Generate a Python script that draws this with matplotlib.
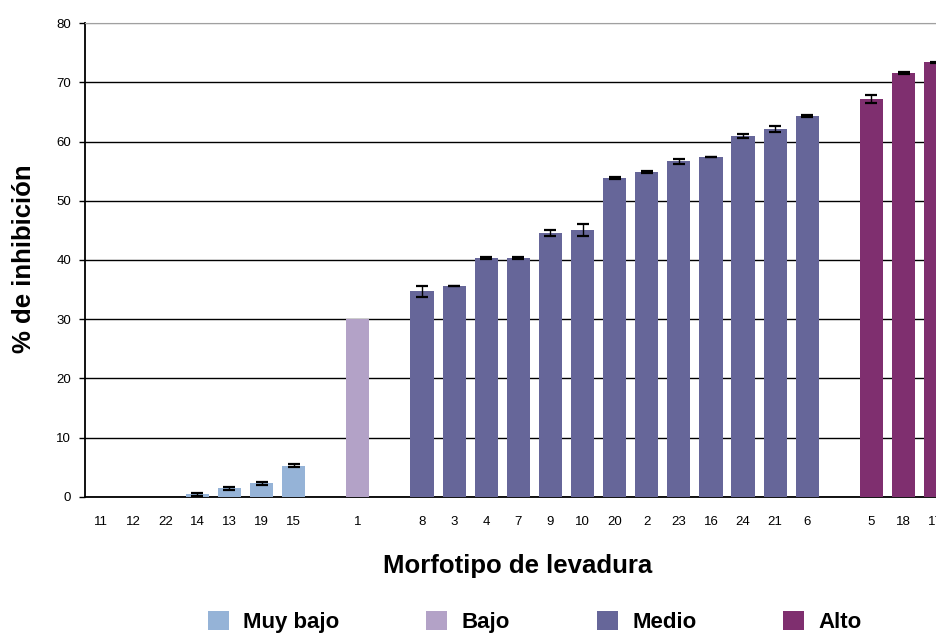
import matplotlib
matplotlib.use("Agg")
import matplotlib.pyplot as plt
from matplotlib.patches import Patch

plt.rcParams["font.family"] = ["Liberation Sans", "DejaVu Sans"]

# Inhibition (%) per yeast morphotype, grouped by inhibition level
muy_bajo_labels = ["11", "12", "22", "14", "13", "19", "15"]
muy_bajo_vals = [0.0, 0.0, 0.0, 0.4, 1.4, 2.3, 5.2]
muy_bajo_err = [0.0, 0.0, 0.0, 0.25, 0.2, 0.25, 0.25]

bajo_labels = ["1"]
bajo_vals = [30.0]
bajo_err = [0.0]

medio_labels = ["8", "3", "4", "7", "9", "10", "20", "2", "23", "16", "24", "21", "6"]
medio_vals = [34.7, 35.6, 40.3, 40.3, 44.6, 45.1, 53.8, 54.9, 56.7, 57.4, 61.0, 62.2, 64.4]
medio_err = [0.9, 0.05, 0.15, 0.15, 0.5, 1.0, 0.15, 0.15, 0.4, 0.05, 0.35, 0.5, 0.15]

alto_labels = ["5", "18", "17"]
alto_vals = [67.2, 71.6, 73.4]
alto_err = [0.6, 0.15, 0.1]

group_names = ["Muy bajo", "Bajo", "Medio", "Alto"]
group_colors = ["#95b3d7", "#b3a2c7", "#666699", "#7f2f6f"]

groups = [
    (muy_bajo_labels, muy_bajo_vals, muy_bajo_err),
    (bajo_labels, bajo_vals, bajo_err),
    (medio_labels, medio_vals, medio_err),
    (alto_labels, alto_vals, alto_err),
]

W, H = 937, 635
fig = plt.figure(figsize=(W / 100, H / 100), dpi=100)

# the plot area runs past the right edge of the figure
slot_px = 32.1
n_slots = 27
x0_px, y0_px, y1_px = 85.0, 496.7, 23.3
ax = fig.add_axes([x0_px / W, (H - y0_px) / H,
                   n_slots * slot_px / W, (y0_px - y1_px) / H])

tick_pos, tick_lab = [], []
pos = 0
for (labels, vals, errs), color in zip(groups, group_colors):
    xs = list(range(pos, pos + len(labels)))
    ax.bar(xs, vals, width=0.72, color=color, edgecolor="none", zorder=3)
    ex = [x for x, e in zip(xs, errs) if e > 0]
    ey = [v for v, e in zip(vals, errs) if e > 0]
    ee = [e for e in errs if e > 0]
    if ex:
        ax.errorbar(ex, ey, yerr=ee, fmt="none", ecolor="black",
                    elinewidth=1.0, capsize=4, capthick=1.6, zorder=4)
    tick_pos += xs
    tick_lab += labels
    pos += len(labels) + 1

ax.set_xlim(-0.5, n_slots - 0.5)
ax.set_ylim(0, 80)
ax.set_yticks(range(0, 81, 10))
ax.set_xticks(tick_pos)
ax.set_xticklabels(tick_lab, fontsize=9.5)
ax.tick_params(axis="x", length=0, pad=14)
ax.tick_params(axis="y", direction="out", length=4, width=1, pad=6, labelsize=9.5)

ax.yaxis.grid(True, color="black", linewidth=1.0, zorder=0)
ax.set_axisbelow(True)
gl = ax.get_ygridlines()
gl[-1].set_color("#a0a0a0")

ax.spines["right"].set_visible(False)
ax.spines["top"].set_color("#a0a0a0")
ax.spines["left"].set_linewidth(1.3)
ax.spines["bottom"].set_linewidth(1.3)

fig.text(24 / W, 1 - 259 / H, "% de inhibición", rotation=90,
         ha="center", va="center", fontsize=18.5, fontweight="bold")
fig.text(518 / W, 1 - 566 / H, "Morfotipo de levadura",
         ha="center", va="center", fontsize=18.5, fontweight="bold")

handles = [Patch(facecolor=c, label=n) for n, c in zip(group_names, group_colors)]
fig.legend(handles=handles, ncol=4, loc="center",
           bbox_to_anchor=(535 / W, 1 - 622 / H), frameon=False,
           prop={"size": 16, "weight": "bold"},
           handlelength=0.95, handleheight=0.95, handletextpad=0.65,
           columnspacing=3.9, borderpad=0.1)

fig.savefig("out.png", dpi=100)
